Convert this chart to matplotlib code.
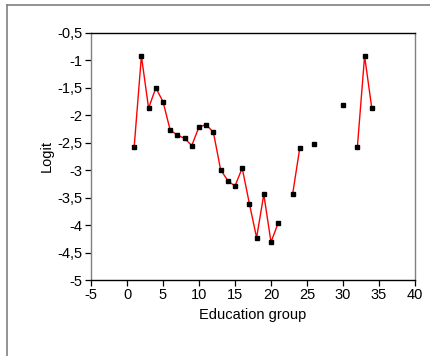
import numpy as np
import matplotlib
matplotlib.use("Agg")
import matplotlib.pyplot as plt
from matplotlib.lines import Line2D

plt.rcParams['font.family'] = ['Liberation Sans', 'DejaVu Sans']

education_group = list(range(1, 35))
logit = [-2.57, -0.92, -1.87, -1.50, -1.75, -2.27, -2.36, -2.42, -2.55, -2.21,
         -2.17, -2.31, -2.99, -3.19, -3.29, -2.96, -3.61, -4.23, -3.44, -4.31,
         -3.96, np.nan, -3.44, -2.59, np.nan, -2.52, np.nan, np.nan, np.nan, -1.82,
         np.nan, -2.57, -0.92, -1.87]
x_ticks = [-5, 0, 5, 10, 15, 20, 25, 30, 35, 40]
y_ticks = [-5, -4.5, -4, -3.5, -3, -2.5, -2, -1.5, -1, -0.5]
y_tick_labels = ['-5', '-4,5', '-4', '-3,5', '-3', '-2,5', '-2', '-1,5', '-1', '-0,5']

fig = plt.figure(figsize=(4.3, 3.56), dpi=100)
W, H = 430, 356
ax = fig.add_axes([91 / W, 1 - 280 / H, (415 - 91) / W, (280 - 33) / H])

# outer border
fig.add_artist(Line2D([7 / W, 7 / W], [0, 1 - 5 / H], color='#808080', lw=1.2, transform=fig.transFigure))
fig.add_artist(Line2D([7 / W, 1], [1 - 5 / H, 1 - 5 / H], color='#808080', lw=1.2, transform=fig.transFigure))

ax.plot(education_group, logit, color='red', lw=1.0, zorder=2)
ax.plot(education_group, logit, linestyle='none', marker='s', ms=3.2,
        color='black', zorder=3)

ax.set_xlim(-5, 40)
ax.set_ylim(-5, -0.5)
ax.set_xticks(x_ticks)
ax.set_xticklabels([str(t) for t in x_ticks])
ax.set_yticks(y_ticks)
ax.set_yticklabels(y_tick_labels)
ax.tick_params(direction='out', length=4.5, width=0.9, labelsize=10.5, pad=1.5, colors='black')

ax.spines['top'].set_color('black')
ax.spines['bottom'].set_color('black')
ax.spines['left'].set_color('#808080')
ax.spines['right'].set_color('#808080')
for s in ax.spines.values():
    s.set_linewidth(1.0)

ax.set_xlabel('Education group', fontsize=10.5, labelpad=4)
ax.set_ylabel('Logit', fontsize=10.5, labelpad=3)

fig.savefig('out.png', dpi=100)
